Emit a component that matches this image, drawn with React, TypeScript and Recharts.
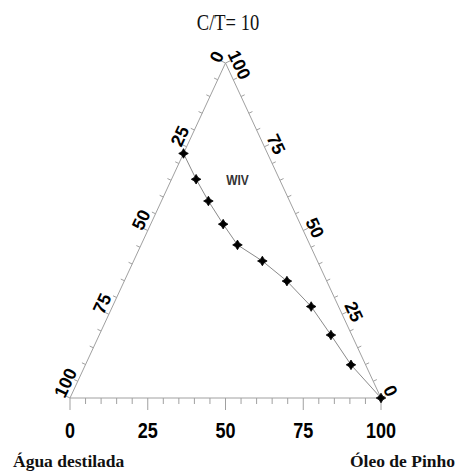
import React from 'react';
import { ComposedChart, XAxis, YAxis, Line, Scatter } from 'recharts';

// Ternary data: C/T (top component, %) and Óleo de Pinho (%) of each boundary point
const topPct = [73, 65.3, 58.8, 51.9, 45.7, 40.9, 34.9, 27.3, 18.8, 9.9, 0];
const oilPct = [0, 7.9, 15.1, 23.3, 31.0, 41.4, 52.3, 63.9, 74.5, 85.4, 100];
const axisTickLabels = [0, 25, 50, 75, 100];
const minorStep = 5;
const titleText = 'C/T= 10';
const leftComponent = 'Água destilada';
const rightComponent = 'Óleo de Pinho';
const regionLabel = 'WIV';

// layout (pixels)
const W = 456;
const H = 472;
const PL = 70;
const PR = 381;
const PT = 63;
const PB = 398;
const sx = (PR - PL) / 100;
const sy = (PB - PT) / 100;
const xDomain: [number, number] = [-PL / sx, (W - PL) / sx];
const yDomain: [number, number] = [-(H - PB) / sy, PB / sy];

const toXY = (top: number, oil: number) => ({ x: oil + top / 2, y: top });

const curve = topPct.map((t, i) => toXY(t, oilPct[i]));
const triangle = [toXY(0, 0), toXY(0, 100), toXY(100, 0), toXY(0, 0)];

type Side = 'bottom' | 'left' | 'right';
const sidePoint = (side: Side, v: number) => {
  if (side === 'bottom') return { x: v, y: 0 };
  if (side === 'left') return { x: (100 - v) / 2, y: 100 - v };
  return { x: 100 - v / 2, y: v };
};

const sides: Side[] = ['bottom', 'left', 'right'];
const ticks: any[] = [];
sides.forEach((side) => {
  for (let v = 0; v <= 100; v += minorStep) {
    ticks.push({ ...sidePoint(side, v), side, major: v % 25 === 0 });
  }
});
const labels: any[] = [];
sides.forEach((side) => {
  axisTickLabels.forEach((v) => labels.push({ ...sidePoint(side, v), side, text: String(v) }));
});

const GRAY = '#a0a0a0';
const NX = 0.906;
const NY = 0.424;

const TickShape = (props: any) => {
  const { cx, cy, payload } = props;
  if (cx == null || cy == null) return <g />;
  let dx = 0;
  let dy = 0;
  if (payload.side === 'bottom') {
    dy = payload.major ? 12 : 6;
  } else {
    const len = payload.major ? 5 : 4;
    dx = (payload.side === 'left' ? -NX : NX) * len;
    dy = -NY * len;
  }
  return <line x1={cx} y1={cy} x2={cx + dx} y2={cy + dy} stroke={GRAY} strokeWidth={1} />;
};

const LabelShape = (props: any) => {
  const { cx, cy, payload } = props;
  if (cx == null || cy == null) return <g />;
  const n = payload.text.length - 2;
  let px = cx;
  let py = cy;
  let rot = 0;
  let scaleY = 1;
  let size = 18;
  if (payload.side === 'bottom') {
    py = cy + 32.5;
    size = 18;
    scaleY = 1.18;
  } else if (payload.side === 'left') {
    px = cx - 6.5 + 0.423 * n * 5;
    py = cy - 10.5 - 0.906 * n * 5;
    rot = -65;
  } else {
    px = cx + 11.5 + 0.423 * n * 5;
    py = cy - 2.5 + 0.906 * n * 5;
    rot = 65;
  }
  return (
    <text
      transform={`translate(${px},${py}) rotate(${rot}) scale(1,${scaleY})`}
      textAnchor="middle"
      dominantBaseline="central"
      fontFamily="'Liberation Sans', Arial, sans-serif"
      fontWeight="bold"
      fontSize={size}
      fill="#000"
    >
      {payload.text}
    </text>
  );
};

const StarDot = (props: any) => {
  const { cx, cy, index } = props;
  if (cx == null || cy == null) return <g key={`d-${index}`} />;
  const d = 'M0,-4.8 L1.8,-1.8 L4.8,0 L1.8,1.8 L0,4.8 L-1.8,1.8 L-4.8,0 L-1.8,-1.8 Z';
  return <path key={`d-${index}`} d={d} transform={`translate(${cx},${cy})`} fill="#000" stroke="#000" strokeWidth={0.8} />;
};

export default function App() {
  return (
    <div style={{ position: 'absolute', left: 0, top: 0, width: W, height: H, background: '#fff' }}>
      <ComposedChart width={W} height={H} margin={{ top: 0, right: 0, bottom: 0, left: 0 }}>
        <XAxis type="number" dataKey="x" domain={xDomain} hide />
        <YAxis type="number" dataKey="y" domain={yDomain} hide />
        <Line data={triangle} dataKey="y" stroke={GRAY} strokeWidth={1} dot={false} activeDot={false} isAnimationActive={false} />
        <Scatter data={ticks} dataKey="y" shape={TickShape} isAnimationActive={false} />
        <Scatter data={labels} dataKey="y" shape={LabelShape} isAnimationActive={false} />
        <Line data={curve} dataKey="y" stroke="#8a8a8a" strokeWidth={1} dot={StarDot} activeDot={false} isAnimationActive={false} />
      </ComposedChart>
      <svg width={W} height={H} style={{ position: 'absolute', left: 0, top: 0, pointerEvents: 'none' }}>
        <text transform="translate(228,30) scale(1,1.2)" textAnchor="middle" fontFamily="'Liberation Serif', 'Times New Roman', serif" fontSize={18.5} fill="#111">
          {titleText}
        </text>
        <text transform="translate(237.5,185) scale(1,1.2)" textAnchor="middle" fontFamily="'Liberation Sans', Arial, sans-serif" fontWeight="bold" fontSize={12} fill="#333">
          {regionLabel}
        </text>
        <text x={13} y={466.5} fontFamily="'Liberation Serif', 'Times New Roman', serif" fontWeight="bold" fontSize={17.5} fill="#111">
          {leftComponent}
        </text>
        <text x={455} y={466.5} textAnchor="end" fontFamily="'Liberation Serif', 'Times New Roman', serif" fontWeight="bold" fontSize={17.5} fill="#111">
          {rightComponent}
        </text>
      </svg>
    </div>
  );
}
